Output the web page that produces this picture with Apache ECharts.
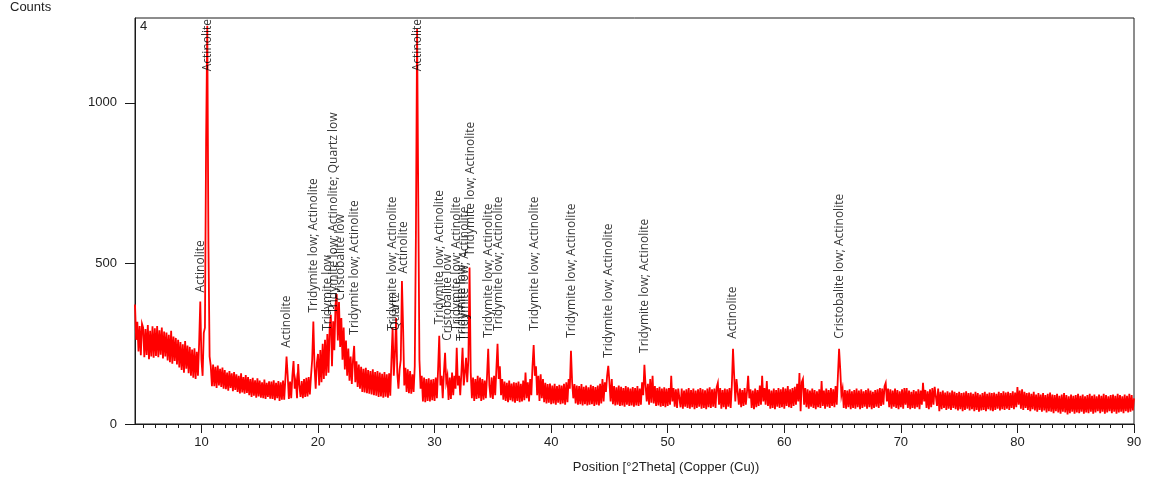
<!DOCTYPE html>
<html>
<head>
<meta charset="utf-8">
<script src="https://cdn.jsdelivr.net/npm/echarts@6/dist/echarts.min.js"></script>
<style>
  html, body { margin: 0; padding: 0; background: #fff; }
  #chart { width: 1156px; height: 484px; }
</style>
</head>
<body>
<div id="chart"></div>
<script>
// Scan grid: first 2θ position and step (degrees)
const xStart = 4.3;
const xStep = 0.1;

// Intensity (counts), one row per degree of 2θ
const counts = [
  372, 262, 318, 226, 305, 214, 312,                  // 4.3
  300, 208, 296, 215, 308, 202, 290, 210, 304, 206,  // 5
  298, 212, 305, 208, 292, 216, 300, 204, 288, 210,  // 6
  285, 198, 278, 192, 290, 188, 272, 196, 268, 185,  // 7
  262, 176, 255, 168, 248, 160, 258, 172, 244, 158,  // 8
  240, 150, 232, 144, 236, 140, 225, 150, 250, 381,  // 9
  200, 150, 284, 300, 880, 1240, 560, 210, 180, 118, // 10
  185, 118, 178, 112, 182, 120, 172, 115, 176, 110,  // 11
  168, 108, 160, 104, 165, 112, 158, 102, 162, 106,  // 12
  155, 100, 150, 95, 158, 98, 146, 94, 152, 97,      // 13
  146, 90, 140, 84, 144, 88, 136, 82, 142, 86,       // 14
  135, 82, 130, 80, 138, 78, 128, 84, 133, 79,       // 15
  132, 78, 136, 74, 128, 80, 134, 72, 130, 76,       // 16
  135, 76, 140, 210, 150, 78, 132, 80, 150, 196,     // 17
  110, 135, 80, 187, 120, 84, 134, 80, 140, 84,      // 18
  144, 86, 146, 92, 150, 200, 319, 180, 110, 190,    // 19
  218, 120, 230, 130, 250, 140, 262, 150, 280, 160,  // 20
  300, 340, 180, 320, 230, 370, 405, 260, 380, 240,  // 21
  330, 200, 300, 170, 260, 150, 235, 135, 210, 125,  // 22
  200, 243, 130, 195, 115, 185, 110, 178, 100, 172,  // 23
  98, 175, 96, 168, 94, 165, 92, 170, 90, 162,       // 24
  88, 165, 84, 160, 86, 156, 82, 162, 85, 155,       // 25
  82, 158, 88, 200, 300, 150, 220, 330, 160, 110,    // 26
  170, 200, 445, 300, 120, 175, 100, 170, 96, 165,   // 27
  94, 155, 100, 180, 600, 1230, 700, 200, 110, 150,  // 28
  70, 145, 68, 140, 72, 142, 70, 138, 74, 140,       // 29
  72, 145, 80, 170, 275, 120, 150, 80, 160, 222,     // 30
  130, 150, 75, 145, 78, 160, 90, 150, 110, 237,     // 31
  120, 150, 90, 160, 237, 120, 160, 206, 130, 200,   // 32
  487, 160, 80, 145, 72, 140, 78, 150, 80, 145,      // 33
  72, 140, 76, 135, 80, 150, 234, 120, 82, 145,      // 34
  78, 150, 90, 170, 250, 140, 180, 90, 140, 76,      // 35
  132, 72, 128, 68, 135, 74, 126, 70, 130, 66,       // 36
  128, 72, 132, 68, 125, 70, 135, 74, 160, 80,       // 37
  130, 70, 140, 90, 180, 246, 150, 180, 90, 150,     // 38
  72, 155, 80, 140, 68, 128, 64, 124, 66, 126,       // 39
  62, 120, 64, 125, 60, 118, 66, 122, 62, 120,       // 40
  64, 125, 60, 130, 68, 140, 110, 228, 130, 80,      // 41
  124, 64, 120, 60, 118, 62, 124, 58, 116, 62,       // 42
  120, 58, 114, 60, 122, 62, 118, 56, 115, 60,       // 43
  120, 58, 125, 64, 140, 70, 130, 100, 150, 181,     // 44
  130, 70, 140, 62, 118, 58, 114, 60, 120, 56,       // 45
  116, 58, 112, 54, 118, 60, 114, 56, 110, 58,       // 46
  115, 54, 112, 58, 118, 56, 110, 60, 130, 90,       // 47
  184, 120, 70, 125, 60, 140, 66, 150, 64, 118,      // 48
  56, 112, 58, 116, 54, 110, 56, 114, 52, 110,       // 49
  56, 112, 60, 150, 70, 112, 54, 108, 50, 110,       // 50
  106, 52, 110, 48, 104, 54, 108, 50, 112, 48,       // 51
  106, 52, 110, 46, 104, 50, 108, 54, 112, 48,       // 52
  108, 50, 105, 46, 110, 52, 114, 50, 108, 54,       // 53
  110, 50, 115, 128, 60, 112, 48, 106, 52, 110,      // 54
  46, 108, 54, 112, 50, 120, 234, 150, 70, 140,      // 55
  134, 60, 110, 52, 106, 56, 112, 60, 100, 150,      // 56
  80, 108, 50, 104, 46, 110, 52, 106, 56, 120,       // 57
  60, 150, 70, 112, 60, 134, 56, 108, 48, 104,       // 58
  50, 110, 46, 106, 54, 112, 50, 108, 52, 114,       // 59
  48, 110, 56, 118, 52, 108, 50, 112, 56, 116,       // 60
  60, 125, 70, 159, 40, 130, 140, 60, 112, 52,       // 61
  108, 48, 104, 54, 110, 50, 106, 46, 102, 52,       // 62
  108, 50, 134, 56, 104, 48, 110, 54, 106, 50,       // 63
  112, 56, 108, 52, 118, 60, 150, 234, 170, 90,      // 64
  110, 50, 106, 48, 104, 52, 108, 46, 102, 50,       // 65
  106, 48, 110, 52, 104, 46, 108, 50, 102, 54,       // 66
  106, 48, 110, 52, 104, 46, 100, 50, 106, 54,       // 67
  108, 50, 112, 56, 110, 60, 118, 128, 70, 110,      // 68
  52, 108, 48, 104, 54, 110, 50, 106, 46, 102,       // 69
  52, 108, 48, 112, 60, 112, 50, 104, 46, 100,       // 70
  50, 106, 48, 102, 52, 108, 46, 104, 60, 128,       // 71
  70, 106, 50, 102, 46, 108, 52, 112, 60, 116,       // 72
  118, 56, 110, 40, 100, 46, 104, 50, 98, 44,        // 73
  102, 48, 98, 44, 104, 50, 100, 46, 96, 42,         // 74
  100, 46, 96, 40, 98, 44, 102, 48, 96, 42,          // 75
  98, 46, 94, 40, 100, 44, 96, 38, 92, 42,           // 76
  96, 44, 100, 40, 94, 46, 98, 42, 96, 40,           // 77
  98, 44, 94, 48, 100, 42, 96, 46, 102, 44,          // 78
  98, 48, 100, 44, 96, 50, 102, 46, 98, 52,          // 79
  115, 60, 104, 48, 108, 44, 100, 50, 96, 44,        // 80
  98, 40, 94, 46, 100, 42, 92, 38, 96, 44,           // 81
  92, 38, 96, 42, 90, 36, 94, 40, 98, 38,            // 82
  92, 34, 90, 40, 94, 36, 88, 32, 92, 38,            // 83
  96, 36, 90, 30, 86, 34, 92, 38, 88, 32,            // 84
  90, 36, 94, 34, 88, 38, 92, 32, 86, 36,            // 85
  90, 34, 94, 38, 88, 32, 92, 36, 86, 40,            // 86
  92, 34, 88, 38, 94, 32, 90, 36, 86, 40,            // 87
  90, 34, 92, 38, 88, 32, 94, 36, 90, 38,            // 88
  86, 34, 92, 40, 88, 36, 94, 38, 90, 42,            // 89
  80                                                 // 90
];

// Phase identification labels: position (°2θ), peak height under the label, text
const peakPositions = [9.9, 10.5, 17.3, 19.6, 20.8, 21.3, 21.9, 23.1, 26.4, 26.65, 27.3, 28.5,
  30.4, 31.1, 31.9, 32.3, 32.6, 33.1, 34.6, 35.45, 38.6, 41.75, 44.95, 48.05, 55.6, 64.75];
const peakHeights = [381, 1240, 209, 319, 262, 315, 356, 250, 262, 262, 440, 1230,
  282, 231, 262, 231, 231, 495, 240, 262, 262, 240, 178, 193, 237, 237];
const peakNames = [
  'Actinolite', 'Actinolite', 'Actinolite', 'Tridymite low; Actinolite', 'Tridymite low',
  'Tridymite low; Actinolite; Quartz low', 'Cristobalite low', 'Tridymite low; Actinolite',
  'Tridymite low; Actinolite', 'Quartz', 'Actinolite', 'Actinolite',
  'Tridymite low; Actinolite', 'Cristobalite low', 'Tridymite low; Actinolite', 'Tridymite low',
  'Tridymite low; Actinolite', 'Tridymite low; Actinolite', 'Tridymite low; Actinolite',
  'Tridymite low; Actinolite', 'Tridymite low; Actinolite', 'Tridymite low; Actinolite',
  'Tridymite low; Actinolite', 'Tridymite low; Actinolite', 'Actinolite',
  'Cristobalite low; Actinolite'
];

// Axis ticks
const xMajorTicks = [10, 20, 30, 40, 50, 60, 70, 80, 90];
const xMinorTicks = [5, 6, 7, 8, 9, 11, 12, 13, 14, 15, 16, 17, 18, 19, 21, 22, 23, 24, 25, 26, 27, 28, 29,
  31, 32, 33, 34, 35, 36, 37, 38, 39, 41, 42, 43, 44, 45, 46, 47, 48, 49, 51, 52, 53, 54, 55, 56, 57, 58, 59,
  61, 62, 63, 64, 65, 66, 67, 68, 69, 71, 72, 73, 74, 75, 76, 77, 78, 79, 81, 82, 83, 84, 85, 86, 87, 88, 89];
const yTicks = [0, 500, 1000];

const X_MIN = 4.3, X_MAX = 90, Y_MAX = 1264;
const GRID = { left: 135, right: 22, top: 18, bottom: 60 };
const PLOT_H = 484 - GRID.top - GRID.bottom;

const axisFont = 'Liberation Sans, Arial, sans-serif';
const labelFontFamily = '"Open Sans", "Noto Sans", sans-serif';
const labelFontSize = 12;

const pattern = counts.map((c, i) => [+(xStart + i * xStep).toFixed(2), c]);

// Text labels sit a few pixels above their peak; tall peaks push the text down so it stays inside the frame
const measure = document.createElement('canvas').getContext('2d');
measure.font = labelFontSize + 'px ' + labelFontFamily;
const pxPerCount = PLOT_H / Y_MAX;
const GAP = 9;
const labelPoints = peakPositions.map((x, i) => {
  const w = measure.measureText(peakNames[i]).width;
  let basePx = peakHeights[i] * pxPerCount + GAP;
  if (basePx + w > PLOT_H - 1) basePx = PLOT_H - 1 - w;
  return { value: [x, basePx / pxPerCount], name: peakNames[i] };
});

const chart = echarts.init(document.getElementById('chart'), null, { renderer: 'canvas' });

chart.setOption({
  animation: false,
  backgroundColor: '#ffffff',
  grid: {
    left: GRID.left, right: GRID.right, top: GRID.top, bottom: GRID.bottom,
    show: true, borderColor: '#1a1a1a', borderWidth: 1, backgroundColor: 'transparent'
  },
  xAxis: [
    {
      type: 'value', min: X_MIN, max: X_MAX,
      axisLine: { show: true, onZero: false, lineStyle: { color: '#1a1a1a', width: 1 } },
      axisTick: { show: true, length: 9, customValues: xMajorTicks, lineStyle: { color: '#1a1a1a' } },
      axisLabel: { customValues: xMajorTicks, margin: 12, color: '#222', fontSize: 13, fontFamily: axisFont,
        formatter: v => String(v) },
      splitLine: { show: false }
    },
    {
      type: 'value', min: X_MIN, max: X_MAX, position: 'bottom',
      axisLine: { show: false, onZero: false },
      axisTick: { show: true, length: 4, customValues: xMinorTicks, lineStyle: { color: '#1a1a1a' } },
      axisLabel: { show: false },
      splitLine: { show: false }
    }
  ],
  yAxis: {
    type: 'value', min: 0, max: Y_MAX,
    axisLine: { show: true, onZero: false, lineStyle: { color: '#1a1a1a', width: 1 } },
    axisTick: { show: true, length: 10, customValues: yTicks, lineStyle: { color: '#1a1a1a' } },
    axisLabel: { customValues: yTicks, margin: 18, color: '#222', fontSize: 13, fontFamily: axisFont,
      formatter: v => String(v) },
    splitLine: { show: false }
  },
  graphic: [
    { type: 'text', left: 10, top: 1, style: { text: 'Counts', fill: '#222', font: '13px ' + axisFont } },
    { type: 'text', left: 140, top: 20, style: { text: '4', fill: '#222', font: '13px ' + axisFont } },
    { type: 'text', x: 666, y: 467, style: { text: 'Position [°2Theta] (Copper (Cu))', fill: '#222',
      font: '13px ' + axisFont, align: 'center', verticalAlign: 'middle' } }
  ],
  series: [
    {
      type: 'line', name: '4', data: pattern, showSymbol: false, symbol: 'none',
      lineStyle: { color: '#ff0000', width: 1.8, join: 'miter' }, clip: true, z: 2
    },
    {
      type: 'scatter', data: labelPoints, symbolSize: 0.1,
      itemStyle: { color: 'transparent' }, z: 3, silent: true,
      label: {
        show: true, position: 'top', distance: 0, rotate: 90,
        align: 'left', verticalAlign: 'middle',
        formatter: p => p.name,
        color: '#000', fontSize: labelFontSize, fontFamily: labelFontFamily
      }
    }
  ]
});
</script>
</body>
</html>
